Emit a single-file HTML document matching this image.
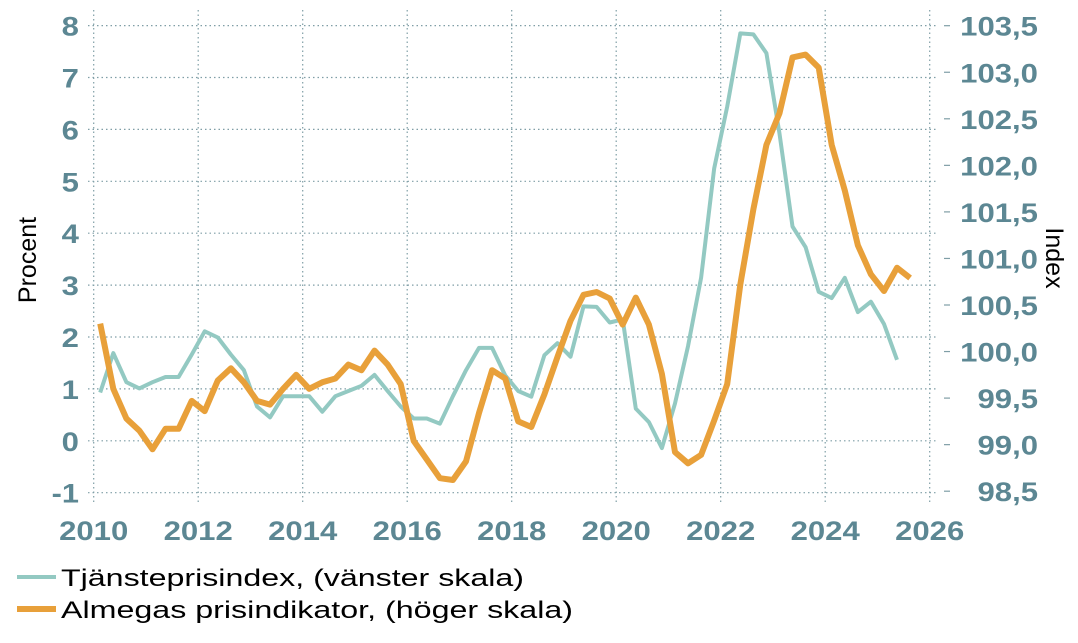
<!DOCTYPE html>
<html><head><meta charset="utf-8"><style>
html,body{margin:0;padding:0;background:#fff;}
svg text{font-family:"Liberation Sans",Arial,sans-serif;}
</style></head><body>
<svg id="chart" width="1078" height="638" viewBox="0 0 1078 638" xmlns="http://www.w3.org/2000/svg">
<g id="grid"></g>
<g id="axes"></g>
<g id="series"></g>
<text transform="translate(36,260) rotate(-90)" text-anchor="middle" font-size="25" fill="#000">Procent</text>
<text transform="translate(1046,258) rotate(90)" text-anchor="middle" font-size="25" fill="#000">Index</text>
<g>
<g>
<line x1="17" y1="577" x2="56" y2="577" stroke="#93c9c2" stroke-width="4"/>
<text x="61" y="586" font-size="24" fill="#000" textLength="463" lengthAdjust="spacingAndGlyphs">Tjänsteprisindex, (vänster skala)</text>
</g>
<g>
<line x1="17" y1="609" x2="56" y2="609" stroke="#e8a03a" stroke-width="6"/>
<text x="61" y="618" font-size="24" fill="#000" textLength="512" lengthAdjust="spacingAndGlyphs">Almegas prisindikator, (höger skala)</text>
</g>
</g>
</svg>
<script>
const leftTicks = ["-1","0","1","2","3","4","5","6","7","8"];
const leftTickValues = [-1,0,1,2,3,4,5,6,7,8];
const rightTicks = ["98,5","99,0","99,5","100,0","100,5","101,0","101,5","102,0","102,5","103,0","103,5"];
const rightTickValues = [98.5,99,99.5,100,100.5,101,101.5,102,102.5,103,103.5];
const xTicks = ["2010","2012","2014","2016","2018","2020","2022","2024","2026"];
const xTickValues = [2010,2012,2014,2016,2018,2020,2022,2024,2026];
const tjanstStart = 2010.125;
const tjanstValues = [0.93,1.69,1.13,1.01,1.13,1.23,1.23,1.66,2.11,1.99,1.66,1.36,0.66,0.45,0.86,0.86,0.86,0.56,0.86,0.96,1.06,1.27,0.96,0.66,0.43,0.43,0.33,0.86,1.36,1.79,1.79,1.26,0.96,0.85,
1.65,1.88,1.62,2.59,2.58,2.28,2.34,0.62,0.36,-0.14,0.72,1.82,3.14,5.25,6.44,7.85,7.83,7.47,5.92,4.13,3.73,2.87,2.75,3.14,2.48,2.68,2.25,1.56];
const almegaStart = 2010.125;
const almegaValues = [100.30,99.60,99.28,99.15,98.95,99.17,99.17,99.47,99.36,99.69,99.82,99.67,99.47,99.43,99.60,99.75,99.60,99.67,99.71,99.86,99.80,100.01,99.86,99.65,99.04,98.84,98.64,98.62,98.82,99.34,99.80,99.71,99.25,99.19,
99.54,99.94,100.33,100.61,100.64,100.57,100.29,100.58,100.29,99.76,98.92,98.80,98.89,99.26,99.65,100.72,101.53,102.22,102.56,103.16,103.19,103.05,102.22,101.73,101.14,100.83,100.65,100.90,100.79];

const NS="http://www.w3.org/2000/svg";
const xS = t => 93.7 + (t-2010)*52.25;
const yL = v => 440.8 - v*51.9;
const yR = v => 25.7 + (103.5-v)*93.1;
const grid=document.getElementById('grid'), axes=document.getElementById('axes'), series=document.getElementById('series');
function mk(tag, attrs, parent){const e=document.createElementNS(NS,tag);for(const k in attrs)e.setAttribute(k,attrs[k]);parent.appendChild(e);return e;}
function tl(s){let w=0;for(const c of s){w+= c===','?8.6:(c==='-'?10:17.3);}return w.toFixed(1);}
const tickCol="#5c8793";
leftTickValues.forEach((v,i)=>{
  const y=yL(v);
  const g=mk('line',{x1:88,x2:938,y1:y,y2:y,stroke:"#7f9ea6","stroke-width":1.2,"stroke-dasharray":"1.5,3"},grid);
  
  
  const t=mk('text',{x:79,y:y+10,"text-anchor":"end","font-size":27,fill:tickCol,"font-weight":"bold",textLength:tl(leftTicks[i]),lengthAdjust:"spacingAndGlyphs"},axes);
  t.textContent=leftTicks[i];
  
  
});
rightTickValues.forEach((v,i)=>{
  const y=yR(v);
  const m=mk('line',{x1:944,x2:950,y1:y,y2:y,stroke:"#7f9ea6","stroke-width":1.2},axes);
  
  
  const t=mk('text',{x:1038,y:y+10,"text-anchor":"end","font-size":27,fill:tickCol,"font-weight":"bold",textLength:tl(rightTicks[i]),lengthAdjust:"spacingAndGlyphs"},axes);
  t.textContent=rightTicks[i];
  
  
});
xTickValues.forEach((v,i)=>{
  const x=xS(v);
  const g=mk('line',{x1:x,x2:x,y1:10,y2:505,stroke:"#7f9ea6","stroke-width":1.2,"stroke-dasharray":"1.5,3"},grid);
  
  
  const t=mk('text',{x:x,y:540,"text-anchor":"middle","font-size":27,fill:tickCol,"font-weight":"bold",textLength:tl(xTicks[i]),lengthAdjust:"spacingAndGlyphs"},axes);
  t.textContent=xTicks[i];
  
  
});
const tp=tjanstValues.map((v,i)=>xS(tjanstStart+0.25*i).toFixed(1)+","+yL(v).toFixed(1)).join(" ");
const l1=mk('polyline',{points:tp,fill:"none",stroke:"#93c9c2","stroke-width":4,"stroke-linejoin":"round"},series);


const ap=almegaValues.map((v,i)=>xS(almegaStart+0.25*i).toFixed(1)+","+yR(v).toFixed(1)).join(" ");
const l2=mk('polyline',{points:ap,fill:"none",stroke:"#e8a03a","stroke-width":6,"stroke-linejoin":"round"},series);


</script>
</body></html>
